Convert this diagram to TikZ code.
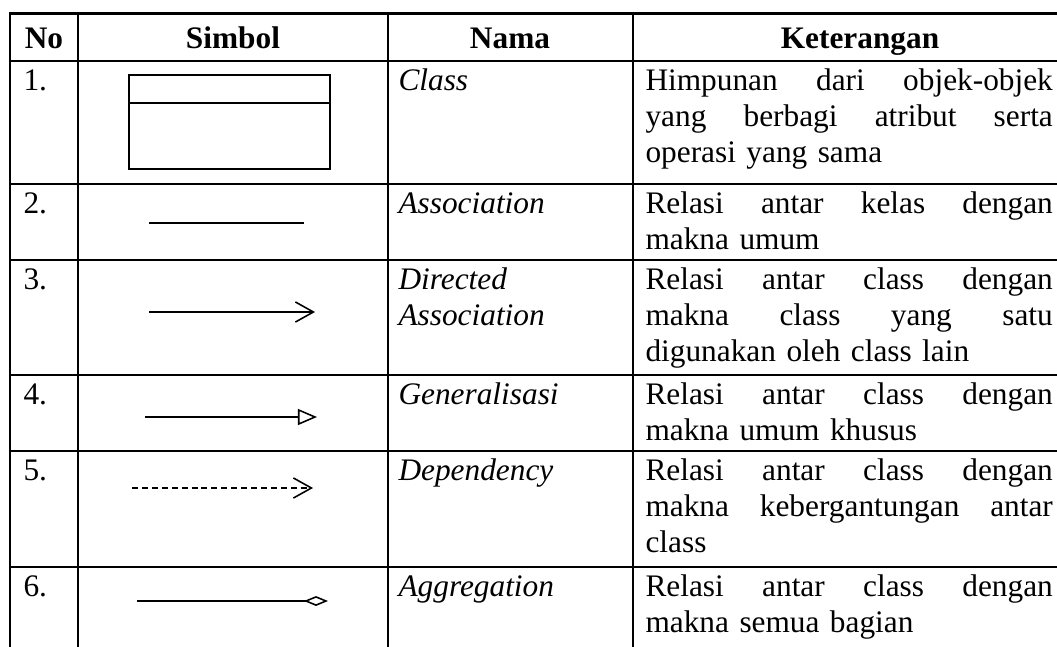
\documentclass[tikz,border=0pt]{standalone}
\usepackage{fontspec}
\setmainfont{Liberation Serif}
\usetikzlibrary{arrows.meta}
\newcommand{\jline}[1]{\makebox[156pt][s]{\spaceskip=0pt\xspaceskip=0pt\strut#1}}

\begin{document}
\begin{tikzpicture}[
  x=0.383pt, y=-0.383pt,
  rule/.style={line width=1pt, line cap=rect},
  symline/.style={line width=0.6pt},
  headcell/.style={anchor=base, inner sep=0pt, font=\fontsize{12}{13.8}\selectfont\bfseries},
  nocell/.style={anchor=north west, inner sep=0pt, font=\fontsize{12}{13.8}\selectfont},
  namecell/.style={anchor=north west, inner sep=0pt, align=left, font=\fontsize{12}{13.8}\selectfont\itshape},
  desccell/.style={anchor=north west, inner sep=0pt, text width=156pt, align=left, font=\fontsize{12}{13.8}\selectfont},
  classbox/.style={draw, symline, minimum width=77pt, minimum height=36pt, inner sep=0pt}
  ]
  \useasboundingbox (0,0) rectangle (1057,646);
  % Table rules
  \foreach \y in {13.5,61,184,260,375,451,567}
    \draw[rule] (10,\y) -- (1070,\y);
  \foreach \x in {10,78,388,633}
    \draw[rule] (\x,13.5) -- (\x,660);
  % Header
  \node[headcell] (hNo) at (44,49) {No};
  \node[headcell] (hSimbol) at (233,49) {Simbol};
  \node[headcell] (hNama) at (510,49) {Nama};
  \node[headcell] (hKet) at (860,49) {Keterangan};
  % 1. Class
  \node[nocell] (n1) at (23,65) {\strut 1.};
  \node[classbox] (cls) at (229.5,122) {};
  \draw[symline] ([yshift=-11.1pt]cls.north west) -- ([yshift=-11.1pt]cls.north east);
  \node[namecell] (nm1) at (398,65) {\strut Class};
  \node[desccell] (k1) at (645,65) {\jline{Himpunan dari objek-objek}\\\jline{yang berbagi atribut serta}\\operasi yang sama};
  % 2. Association
  \node[nocell] (n2) at (23,188) {\strut 2.};
  \coordinate (asA) at (149,223);
  \coordinate (asB) at (304,223);
  \draw[symline] (asA) -- (asB);
  \node[namecell] (nm2) at (398,188) {\strut Association};
  \node[desccell] (k2) at (645,188) {\jline{Relasi antar kelas dengan}\\makna umum};
  % 3. Directed Association
  \node[nocell] (n3) at (23,264) {\strut 3.};
  \coordinate (daA) at (149,312);
  \coordinate (daB) at (315,312);
  \draw[symline, -{Straight Barb[length=6.9pt, width=7.7pt]}] (daA) -- (daB);
  \node[namecell] (nm3) at (398,264) {\strut Directed\\Association};
  \node[desccell] (k3) at (645,264) {\jline{Relasi antar class dengan}\\\jline{makna class yang satu}\\digunakan oleh class lain};
  % 4. Generalisasi
  \node[nocell] (n4) at (23,379) {\strut 4.};
  \coordinate (geA) at (145,417);
  \coordinate (geB) at (317,417);
  \draw[symline, -{Triangle[open, length=7.3pt, width=6.1pt]}] (geA) -- (geB);
  \node[namecell] (nm4) at (398,379) {\strut Generalisasi};
  \node[desccell] (k4) at (645,379) {\jline{Relasi antar class dengan}\\makna umum khusus};
  % 5. Dependency
  \node[nocell] (n5) at (23,455) {\strut 5.};
  \coordinate (deA) at (132,488);
  \coordinate (deB) at (313,488);
  \draw[symline, dash pattern=on 2.3pt off 1.5pt, -{Straight Barb[length=6.9pt, width=7.7pt]}] (deA) -- (deB);
  \node[namecell] (nm5) at (398,455) {\strut Dependency};
  \node[desccell] (k5) at (645,455) {\jline{Relasi antar class dengan}\\\jline{makna kebergantungan antar}\\class};
  % 6. Aggregation
  \node[nocell] (n6) at (23,571) {\strut 6.};
  \coordinate (agA) at (137,601);
  \coordinate (agB) at (328,601);
  \draw[symline, -{Diamond[open, length=9.2pt, width=3.8pt]}] (agA) -- (agB);
  \node[namecell] (nm6) at (398,571) {\strut Aggregation};
  \node[desccell] (k6) at (645,571) {\jline{Relasi antar class dengan}\\makna semua bagian};
\end{tikzpicture}
\end{document}
